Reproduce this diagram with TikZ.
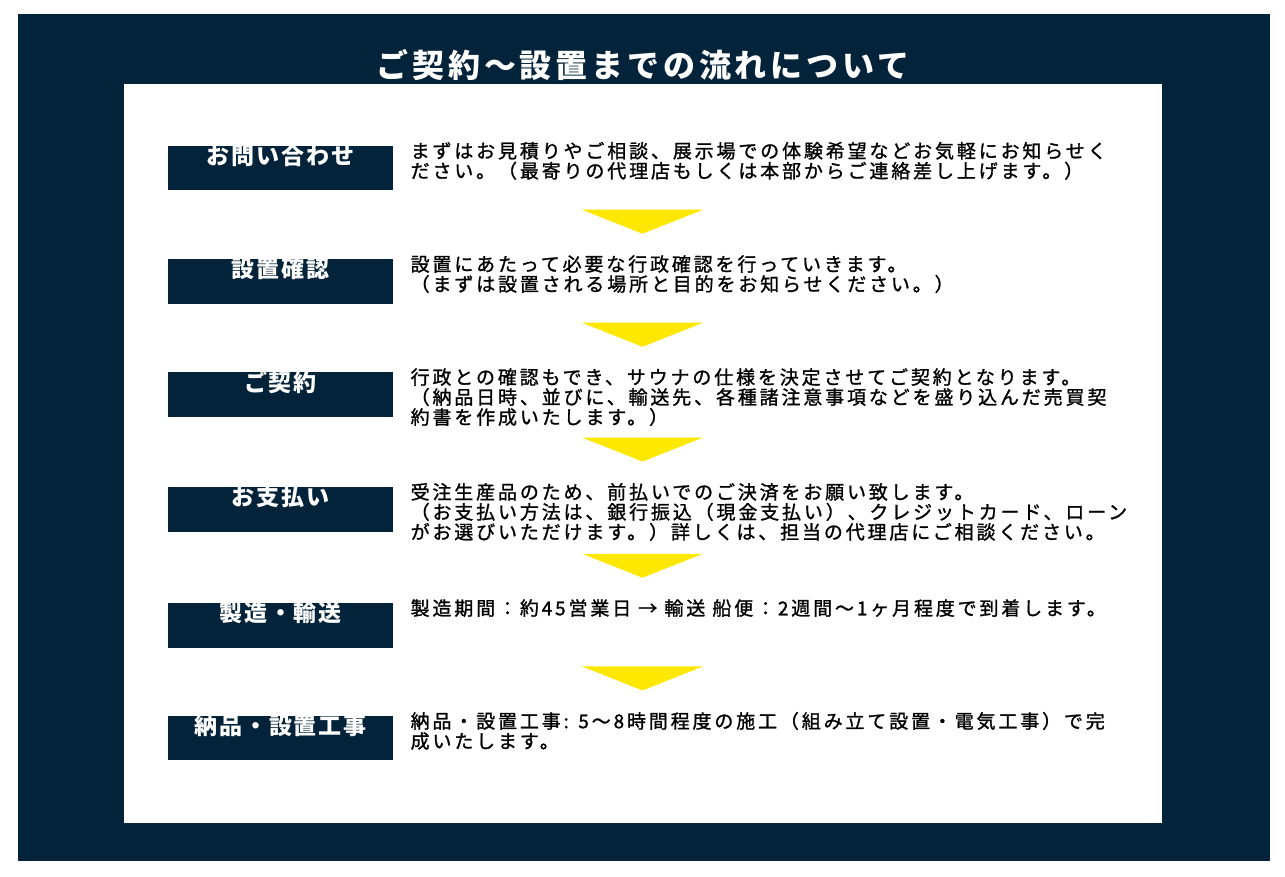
\documentclass[tikz,border=0pt]{standalone}
\usepackage{fontspec}
\setmainfont{Noto Sans CJK JP}
\newfontfamily\titlefont{Noto Sans CJK JP}[LetterSpace=12]
\newfontfamily\labelfont{Noto Sans CJK JP}[LetterSpace=8]
\newfontfamily\notefont{Noto Sans CJK JP}[LetterSpace=15,FakeBold=1.2,RawFeature={+chws}]
\usetikzlibrary{positioning}
\definecolor{navy}{RGB}{2,35,58}
\definecolor{flowyellow}{RGB}{255,232,0}

\begin{document}
\begin{tikzpicture}[x=1pt,y=-1pt,
      stepbox/.style={rectangle,fill=navy,minimum width=224.5pt,minimum height=44.5pt,inner sep=0pt},
      steplabel/.style={text=white,inner sep=0pt,font=\labelfont\bfseries\fontsize{23}{23}\selectfont},
      stepnote/.style={anchor=north west,align=left,inner sep=0pt,font=\notefont\fontsize{19}{20}\selectfont}]
    \fill[white] (0,0) rectangle (1285,877);
    \fill[navy] (18,14) rectangle (1270,861);
    \fill[white] (124,84) rectangle (1162,823);
    \node[text=white,inner sep=0pt,font=\titlefont\bfseries\fontsize{32}{32}\selectfont](title) at (643,65){ご契約～設置までの流れについて};

    \node[stepbox](b1) at (280.5,168.2){};
    \node[stepbox,below of=b1,node distance=113.3pt](b2){};
    \node[stepbox,below of=b2,node distance=113pt](b3){};
    \node[stepbox,below of=b3,node distance=114.8pt](b4){};
    \node[stepbox,below of=b4,node distance=116.2pt](b5){};
    \node[stepbox,below of=b5,node distance=112.7pt](b6){};

    \node[steplabel](l1) at ([yshift=-10pt]b1.north){お問い合わせ};
    \node[steplabel](l2) at ([yshift=-10pt]b2.north){設置確認};
    \node[steplabel](l3) at ([yshift=-10pt]b3.north){ご契約};
    \node[steplabel](l4) at ([yshift=-10pt]b4.north){お支払い};
    \node[steplabel](l5) at ([yshift=-10pt]b5.north){製造・輸送};
    \node[steplabel](l6) at ([yshift=-10pt]b6.north){納品・設置工事};

    \node[stepnote](t1) at ([xshift=17.5pt,yshift=4pt]b1.north east){まずはお見積りやご相談、展示場での体験希望などお気軽にお知らせく\\ださい。（最寄りの代理店もしくは本部からご連絡差し上げます。）};
    \node[stepnote](t2) at ([xshift=17.5pt,yshift=4pt]b2.north east){設置にあたって必要な行政確認を行っていきます。\\（まずは設置される場所と目的をお知らせください。）};
    \node[stepnote](t3) at ([xshift=17.5pt,yshift=4pt]b3.north east){行政との確認もでき、サウナの仕様を決定させてご契約となります。\\（納品日時、並びに、輸送先、各種諸注意事項などを盛り込んだ売買契\\約書を作成いたします。）};
    \node[stepnote](t4) at ([xshift=17.5pt,yshift=4pt]b4.north east){受注生産品のため、前払いでのご決済をお願い致します。\\（お支払い方法は、銀行振込（現金支払い）、クレジットカード、ローン\\がお選びいただけます。）詳しくは、担当の代理店にご相談ください。};
    \node[stepnote](t5) at ([xshift=17.5pt,yshift=4pt]b5.north east){製造期間：約45営業日 → 輸送 船便：2週間～1ヶ月程度で到着します。};
    \node[stepnote](t6) at ([xshift=17.5pt,yshift=4pt]b6.north east){納品・設置工事: 5～8時間程度の施工（組み立て設置・電気工事）で完\\成いたします。};

    \path (b2.north) ++(362,-49.3) coordinate (a1);
    \path (b3.north) ++(362,-49.3) coordinate (a2);
    \path (b4.north) ++(362,-49.3) coordinate (a3);
    \path (b5.north) ++(362,-49.3) coordinate (a4);
    \path (b6.north) ++(362,-49.3) coordinate (a5);
    \fill[flowyellow] (a1) ++(-60.5,0) -- ++(121,0) -- ++(-60.5,24) -- cycle;
    \fill[flowyellow] (a2) ++(-60.5,0) -- ++(121,0) -- ++(-60.5,24) -- cycle;
    \fill[flowyellow] (a3) ++(-60.5,0) -- ++(121,0) -- ++(-60.5,24) -- cycle;
    \fill[flowyellow] (a4) ++(-60.5,0) -- ++(121,0) -- ++(-60.5,24) -- cycle;
    \fill[flowyellow] (a5) ++(-60.5,0) -- ++(121,0) -- ++(-60.5,24) -- cycle;
\end{tikzpicture}
\end{document}
